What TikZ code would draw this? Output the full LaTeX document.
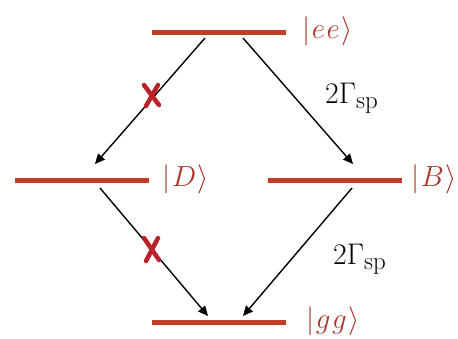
\documentclass[tikz,border=0pt]{standalone}
\usepackage{graphicx}
\usetikzlibrary{arrows.meta,calc}
\definecolor{lvl}{RGB}{192,62,40}
\definecolor{lbl}{RGB}{170,55,45}
\definecolor{xred}{RGB}{185,35,40}
\newcommand{\stlbl}[1]{\scalebox{1.4}{$#1$}}
\newcommand{\rtlbl}[1]{\scalebox{1.2}{$#1$}}
\begin{document}
\begin{tikzpicture}[x=1pt,y=-1pt,
  level/.style={fill=lvl,draw=none,inner sep=0pt,minimum width=134pt,minimum height=5pt},
  statelbl/.style={anchor=west,text=lbl,inner sep=0pt,font=\huge},
  ratelbl/.style={anchor=west,inner sep=0pt,font=\fontsize{29}{32}\selectfont},
  trans/.style={draw=black,line width=1.4pt,-{Triangle[length=10pt,width=9pt]}},
  xmark/.style={draw=xred,line width=4.5pt,line cap=round}]
\useasboundingbox (0,0) rectangle (458,338);
% levels
\node[level] (ee) at (219,32) {};
\node[level] (D) at (81.5,180) {};
\node[level] (B) at (335,180) {};
\node[level] (gg) at (219,322) {};
% labels
\node[statelbl] (Lee) at (302,31) {\stlbl{|\mkern1mu e\mkern1mu e\mkern1mu\rangle}};
\node[statelbl] (LD) at (162,179) {\stlbl{|\mkern1mu D\mkern1mu\rangle}};
\node[statelbl] (LB) at (411,179) {\stlbl{|\mkern1mu B\mkern1mu\rangle}};
\node[statelbl] (Lgg) at (306,321) {\stlbl{|\mkern1mu g\mkern1mu g\mkern1mu\rangle}};
% arrow endpoints
\coordinate (a1s) at (205,38);
\coordinate (a1e) at (95,164);
\coordinate (a2s) at (243,38);
\coordinate (a2e) at (353,164);
\coordinate (a3s) at (100,188);
\coordinate (a3e) at (208,316);
\coordinate (a4s) at (352,188);
\coordinate (a4e) at (243,316);
\draw[trans] (a1s) -- (a1e);
\draw[trans] (a2s) -- (a2e);
\draw[trans] (a3s) -- (a3e);
\draw[trans] (a4s) -- (a4e);
% rates
\node[ratelbl] (r1) at (325,98) {\rtlbl{2\Gamma_{\mathrm{sp}}}};
\node[ratelbl] (r2) at (333,259) {\rtlbl{2\Gamma_{\mathrm{sp}}}};
% X marks
\coordinate (x1a) at (144,85); \coordinate (x1b) at (159,105);
\coordinate (x1c) at (158,85); \coordinate (x1d) at (146,106);
\draw[xmark] (x1a) -- (x1b);
\draw[xmark] (x1c) -- (x1d);
\coordinate (x2a) at (144,238); \coordinate (x2b) at (159,260);
\coordinate (x2c) at (158,238); \coordinate (x2d) at (146,261);
\draw[xmark] (x2a) -- (x2b);
\draw[xmark] (x2c) -- (x2d);
\end{tikzpicture}
\end{document}
